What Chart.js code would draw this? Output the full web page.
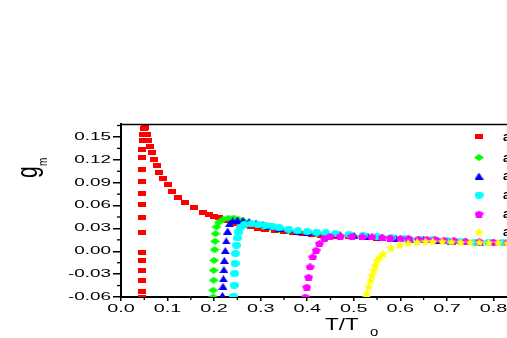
<!DOCTYPE html>
<html>
<head>
<meta charset="utf-8">
<script src="https://cdn.jsdelivr.net/npm/chart.js@4.4.1/dist/chart.umd.min.js"></script>
<style>
html,body{margin:0;padding:0;background:#fff;overflow:hidden;width:507px;height:338px;}
canvas{display:block;}
</style>
</head>
<body>
<canvas id="c" width="560" height="338"></canvas>
<script>
// ---- data ----
const seriesLabels = ["a = 0", "a = 0.2", "a = 0.4", "a = 0.6", "a = 0.8", "a = 1.0"];
const xTickValues = [0.0, 0.1, 0.2, 0.3, 0.4, 0.5, 0.6, 0.7, 0.8, 0.9];
const yTickValues = [-0.06, -0.03, 0.00, 0.03, 0.06, 0.09, 0.12, 0.15];

const redT = [0.0445,0.0445,0.0445,0.0445,0.0445,0.0445,0.0445,0.0445,0.045,0.045,0.045,0.045,0.046,0.046,0.047,0.048,0.050,
  0.052,0.055,0.058,0.062,0.066,0.071,0.077,0.082,0.090,0.100,0.109,0.123,0.138,0.156,0.177,0.190,0.200,0.210,
  0.220,0.230,0.240,0.250,0.265,0.280,0.295,0.310,0.330,0.350,0.370,0.390,0.410,0.430,0.460,0.490,0.520,0.550,0.580,0.610,0.640,0.670,0.700,0.730,0.760,0.790,0.820,0.850];
const redG = [-0.060,-0.053,-0.038,-0.025,-0.012,-0.001,0.024,0.044,0.061,0.076,0.092,0.107,0.123,0.134,0.146,0.153,0.161,
  0.163,0.153,0.146,0.1375,0.129,0.1205,0.113,0.104,0.096,0.087,0.079,0.071,0.064,0.057,0.051,0.048,0.046,0.044,
  0.042,0.040,0.038,0.036,0.034,0.032,0.030,0.029,0.027,0.026,0.024,0.023,0.022,0.021,0.020,0.019,0.018,0.017,0.016,0.015,0.014,0.0135,0.013,0.0125,0.012,0.0115,0.011,0.011];

const greenT = [0.198,0.198,0.199,0.199,0.200,0.201,0.202,0.203,0.205,0.210,0.220,0.231,0.242,0.252,0.262,0.275,0.290,0.305,0.320,0.340,0.360,0.380,0.400,0.420,0.440,0.470,0.500,0.530,0.560,0.590,0.620,0.650,0.680,0.710,0.740,0.770,0.800,0.830];
const greenG = [-0.060,-0.051,-0.038,-0.025,-0.012,0.002,0.013,0.023,0.032,0.038,0.042,0.0436,0.0436,0.042,0.040,0.038,0.035,0.033,0.031,0.029,0.027,0.025,0.024,0.023,0.022,0.021,0.020,0.019,0.018,0.017,0.016,0.015,0.014,0.013,0.0125,0.012,0.0115,0.011];

const blueT = [0.218,0.219,0.220,0.221,0.222,0.224,0.226,0.229,0.233,0.240,0.250,0.262,0.275,0.290,0.305,0.320,0.340,0.360,0.380,0.400,0.420,0.440,0.470,0.500,0.530,0.560,0.590,0.620,0.650,0.680,0.710,0.740,0.770,0.800,0.830];
const blueG = [-0.058,-0.046,-0.036,-0.024,-0.012,0.001,0.0135,0.0266,0.0363,0.040,0.041,0.0405,0.039,0.037,0.035,0.033,0.030,0.028,0.026,0.025,0.024,0.023,0.022,0.021,0.019,0.018,0.017,0.016,0.015,0.014,0.013,0.0125,0.012,0.0115,0.011];

const cyanT = [0.242,0.243,0.244,0.245,0.246,0.248,0.250,0.253,0.257,0.265,0.280,0.295,0.310,0.325,0.340,0.360,0.380,0.400,0.420,0.440,0.460,0.490,0.520,0.550,0.580,0.610,0.640,0.670,0.700,0.730,0.760,0.790,0.820,0.850];
const cyanG = [-0.059,-0.0445,-0.029,-0.016,-0.003,0.008,0.0175,0.0253,0.0318,0.035,0.036,0.035,0.034,0.033,0.031,0.029,0.027,0.026,0.025,0.024,0.023,0.022,0.021,0.019,0.018,0.017,0.016,0.015,0.014,0.013,0.012,0.012,0.0115,0.011];

const magentaT = [0.396,0.399,0.403,0.406,0.412,0.419,0.426,0.437,0.449,0.471,0.496,0.518,0.539,0.561,0.578,0.600,0.618,0.639,0.657,0.675,0.693,0.715,0.740,0.770,0.800,0.830];
const magentaG = [-0.060,-0.047,-0.034,-0.0205,-0.0075,0.0013,0.010,0.0166,0.0197,0.0197,0.0197,0.0188,0.0188,0.018,0.0174,0.0166,0.0166,0.0157,0.0157,0.0153,0.0144,0.0144,0.013,0.0125,0.012,0.0115];

const yellowT = [0.527,0.528,0.532,0.536,0.539,0.543,0.546,0.550,0.556,0.563,0.580,0.599,0.617,0.636,0.654,0.670,0.690,0.710,0.730,0.750,0.770,0.790,0.810,0.830,0.850];
const yellowG = [-0.060,-0.0554,-0.0467,-0.038,-0.0314,-0.0249,-0.0183,-0.0118,-0.0075,-0.003,0.0044,0.0088,0.0109,0.0122,0.0131,0.0131,0.013,0.0125,0.012,0.012,0.0118,0.0115,0.0115,0.011,0.011];

// ---- marker images ----
function makeMarker(shape, color, w, h) {
  const c = document.createElement('canvas');
  c.width = w; c.height = h;
  const x = c.getContext('2d');
  x.fillStyle = color;
  x.beginPath();
  if (shape === 'rect') { x.rect(0, 0, w, h); }
  else if (shape === 'diamond') { x.moveTo(w/2,0); x.lineTo(w,h/2); x.lineTo(w/2,h); x.lineTo(0,h/2); x.closePath(); }
  else if (shape === 'tri') { x.moveTo(w/2,0); x.lineTo(w,h); x.lineTo(0,h); x.closePath(); }
  else if (shape === 'ellipse') { x.ellipse(w/2,h/2,w/2,h/2,0,0,Math.PI*2); }
  else if (shape === 'pent') {
    x.moveTo(w/2,0); x.lineTo(w,h*0.35); x.lineTo(w*0.82,h); x.lineTo(w*0.18,h); x.lineTo(0,h*0.35); x.closePath();
  } else if (shape === 'star') {
    for (let i = 0; i < 10; i++) {
      const a = -Math.PI/2 + i*Math.PI/5;
      const r = (i % 2 === 0) ? 1 : 0.5;
      const px = w/2 + (w/2)*r*Math.cos(a), py = h/2 + 0.6 + (h/2)*r*Math.sin(a);
      if (i === 0) x.moveTo(px, py); else x.lineTo(px, py);
    }
    x.closePath();
  }
  x.fill();
  return c;
}
const mRed = makeMarker('rect', '#ff0000', 8, 5);
const mGreen = makeMarker('diamond', '#00ff00', 10, 7);
const mBlue = makeMarker('tri', '#0000ff', 9, 7);
const mCyan = makeMarker('ellipse', '#00ffff', 9, 7);
const mMagenta = makeMarker('pent', '#ff00ff', 9, 7);
const mYellow = makeMarker('star', '#ffff00', 10, 9);

function pts(T, G) { return T.map((t, i) => ({ x: t, y: G[i] })); }
function ds(label, T, G, img, order) {
  return { label, data: pts(T, G), pointStyle: img, pointRadius: 4, showLine: false, clip: 0, order };
}

const datasets = [
  ds(seriesLabels[0], redT, redG, mRed, 6),
  ds(seriesLabels[1], greenT, greenG, mGreen, 5),
  ds(seriesLabels[2], blueT, blueG, mBlue, 4),
  ds(seriesLabels[3], cyanT, cyanG, mCyan, 3),
  ds(seriesLabels[4], magentaT, magentaG, mMagenta, 2),
  ds(seriesLabels[5], yellowT, yellowG, mYellow, 1)
];

const TICK_FONT = { family: "'Liberation Sans', Arial, sans-serif", size: 10.5 };
let stretchX = 1.8;   // the reference's text is horizontally stretched

const decor = {
  id: 'decor',
  beforeInit(chart) {
    const ctx = chart.ctx;
    const orig = ctx.fillText.bind(ctx);
    ctx.fillText = function (t, x, y, mw) {
      if (stretchX === 1) return orig(t, x, y);
      ctx.save();
      ctx.translate(x, y);
      ctx.scale(stretchX, 1);
      orig(t, 0, 0);
      ctx.restore();
    };
  },
  beforeDraw() { stretchX = 1.8; },
  afterDraw(chart) {
    const ctx = chart.ctx, a = chart.chartArea;
    const xs = chart.scales.x, ys = chart.scales.y;
    stretchX = 1;
    ctx.save();
    // top frame line
    ctx.strokeStyle = '#000'; ctx.lineWidth = 1.5;
    ctx.beginPath(); ctx.moveTo(a.left, a.top + 0.5); ctx.lineTo(a.right, a.top + 0.5); ctx.stroke();
    // minor ticks
    ctx.lineWidth = 1.3;
    for (let i = 0; i < yTickValues.length; i++) {
      const v = yTickValues[i] + 0.015;
      if (v > ys.max) continue;
      const py = ys.getPixelForValue(v);
      ctx.beginPath(); ctx.moveTo(a.left - 4, py); ctx.lineTo(a.left, py); ctx.stroke();
    }
    for (let i = 0; i < xTickValues.length; i++) {
      const v = xTickValues[i] + 0.05;
      if (v > xs.max) continue;
      const px = xs.getPixelForValue(v);
      ctx.beginPath(); ctx.moveTo(px, a.bottom); ctx.lineTo(px, a.bottom + 3); ctx.stroke();
    }
    ctx.fillStyle = '#000';
    ctx.textAlign = 'left'; ctx.textBaseline = 'alphabetic';
    // y title g_m (rotated)
    ctx.save();
    ctx.translate(37, 178); ctx.scale(1.4, 1); ctx.rotate(-Math.PI/2);
    ctx.font = "21px 'Liberation Sans', Arial, sans-serif";
    ctx.fillText('g', 0, 0);
    ctx.restore();
    ctx.save();
    ctx.translate(47, 166); ctx.scale(1.2, 1); ctx.rotate(-Math.PI/2);
    ctx.font = "10px 'Liberation Sans', Arial, sans-serif";
    ctx.fillText('m', 0, 0);
    ctx.restore();
    // x title T/T_o
    ctx.save();
    ctx.translate(325, 329.5); ctx.scale(1.4, 1);
    ctx.font = "16px 'Liberation Sans', Arial, sans-serif";
    ctx.fillText('T/T', 0, 0);
    ctx.restore();
    ctx.save();
    ctx.translate(370, 335.5); ctx.scale(1.25, 1);
    ctx.font = "12px 'Liberation Sans', Arial, sans-serif";
    ctx.fillText('o', 0, 0);
    ctx.restore();
    // legend inside plot
    const legendY = [136.5, 157.5, 176, 195, 214, 232];
    const imgs = [mRed, mGreen, mBlue, mCyan, mMagenta, mYellow];
    ctx.font = "bold 12px 'Liberation Sans', Arial, sans-serif";
    ctx.textBaseline = 'middle';
    for (let i = 0; i < imgs.length; i++) {
      const im = imgs[i];
      ctx.drawImage(im, 479 - im.width/2, legendY[i] - im.height/2);
      ctx.fillText(seriesLabels[i], 503, legendY[i] + 1);
    }
    ctx.restore();
  }
};

new Chart(document.getElementById('c'), {
  type: 'scatter',
  data: { datasets },
  options: {
    responsive: false,
    animation: false,
    events: [],
    layout: { padding: { top: 124, right: 20, left: 0, bottom: 0 } },
    plugins: { legend: { display: false }, tooltip: { enabled: false } },
    scales: {
      x: {
        type: 'linear', min: 0, max: 0.9,
        afterBuildTicks: s => { s.ticks = xTickValues.map(v => ({ value: v })); },
        afterFit: s => { s.height = 41; },
        ticks: { color: '#000', font: { family: "'Liberation Sans', Arial, sans-serif", size: 11 }, padding: 1, maxRotation: 0, autoSkip: false,
                 callback: v => Number(v).toFixed(1) },
        grid: { display: true, drawOnChartArea: false, drawTicks: true, tickLength: 4, color: '#000', lineWidth: 1.5 },
        border: { display: true, color: '#000', width: 2 }
      },
      y: {
        type: 'linear', min: -0.06, max: 0.167,
        afterBuildTicks: s => { s.ticks = yTickValues.map(v => ({ value: v })); },
        afterFit: s => { s.width = 121; },
        ticks: { color: '#000', font: TICK_FONT, padding: 2, autoSkip: false,
                 callback: v => Number(v).toFixed(2) },
        grid: { display: true, drawOnChartArea: false, drawTicks: true, tickLength: 8, color: '#000', lineWidth: 1.5 },
        border: { display: true, color: '#000', width: 2 }
      }
    }
  },
  plugins: [decor]
});
</script>
</body>
</html>
